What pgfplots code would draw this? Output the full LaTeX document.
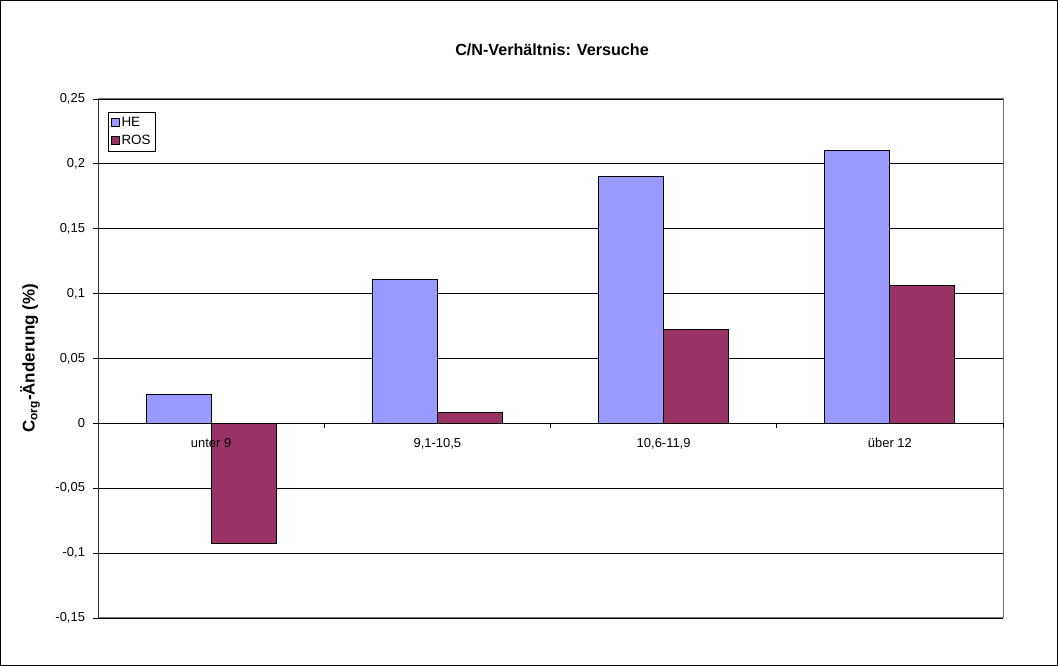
\documentclass[border=0pt]{standalone}
\usepackage{fontspec}
\setmainfont{Liberation Sans}
\usepackage{pgfplots}
\pgfplotsset{compat=1.18}
\definecolor{heblue}{RGB}{153,153,255}
\definecolor{rosred}{RGB}{153,51,102}
\begin{document}
\begin{tikzpicture}
\draw[black,line width=1bp] (0.5bp,0.5bp) rectangle (1057.5bp,665.5bp);
\node[font=\fontsize{16.2}{18}\selectfont\bfseries] at (552bp,616bp) {C/N-Verhältnis: Versuche};
\begin{axis}[
  at={(98bp,48bp)}, anchor=south west,
  scale only axis, width=905bp, height=519bp,
  ymin=-0.15, ymax=0.25,
  xmin=-0.5, xmax=3.5,
  ybar=0pt, bar width=65bp,
  ytick={-0.15,-0.1,-0.05,0,0.05,0.1,0.15,0.2,0.25},
  yticklabels={{-0,15},{-0,1},{-0,05},0,{0,05},{0,1},{0,15},{0,2},{0,25}},
  yticklabel style={font=\fontsize{13}{15}\selectfont, xshift=-4.5bp},
  ymajorgrids, grid style={black, line width=0.8bp},
  ytick style={black, line width=0.8bp},
  major tick length=5bp,
  ytick align=outside, ytick pos=left,
  xtick=\empty,
  axis line style={draw=none},
  ylabel={\bfseries C\textsubscript{org}-Änderung (\%)},
  every axis y label/.style={at={(-68bp,0.5*519bp)}, rotate=90, anchor=center, font=\fontsize{17}{19}\selectfont},
  legend style={at={(10bp,506bp)}, anchor=north west, draw=black, line width=0.8bp,
    font=\fontsize{13.5}{15}\selectfont, row sep=4bp, inner xsep=3bp, inner ysep=3.5bp,
    nodes={inner sep=1.5bp}},
  legend image code/.code={\draw[#1, line width=0.6bp] (0bp,-4bp) rectangle (8bp,4bp);},
  legend cell align=left,
  clip=false,
]
\addplot[fill=heblue, draw=black, line width=0.8bp] coordinates {(0,0.0223) (1,0.1106) (2,0.1902) (3,0.2105)};
\addplot[fill=rosred, draw=black, line width=0.8bp] coordinates {(0,-0.0928) (1,0.0085) (2,0.0725) (3,0.1060)};
\legend{HE,ROS}
\draw[gray!90!black, line width=1bp] (axis cs:-0.5,0.25) -- (axis cs:3.5,0.25) -- (axis cs:3.5,-0.15) -- (axis cs:-0.5,-0.15);
\draw[black!80, line width=1bp] (axis cs:-0.5,-0.15) -- (axis cs:-0.5,0.25);
\draw[black, line width=0.8bp] (axis cs:-0.5,0) -- (axis cs:3.5,0);
\pgfplotsinvokeforeach{0.5,1.5,2.5,3.5}{\draw[black, line width=0.8bp] (axis cs:#1,0) -- ([yshift=-5bp]axis cs:#1,0);}
\node[font=\fontsize{13}{15}\selectfont, anchor=base] at ([yshift=-24bp]axis cs:0,0) {unter 9};
\node[font=\fontsize{13}{15}\selectfont, anchor=base] at ([yshift=-24bp]axis cs:1,0) {9,1-10,5};
\node[font=\fontsize{13}{15}\selectfont, anchor=base] at ([yshift=-24bp]axis cs:2,0) {10,6-11,9};
\node[font=\fontsize{13}{15}\selectfont, anchor=base] at ([yshift=-24bp]axis cs:3,0) {über 12};
\end{axis}
\end{tikzpicture}
\end{document}
